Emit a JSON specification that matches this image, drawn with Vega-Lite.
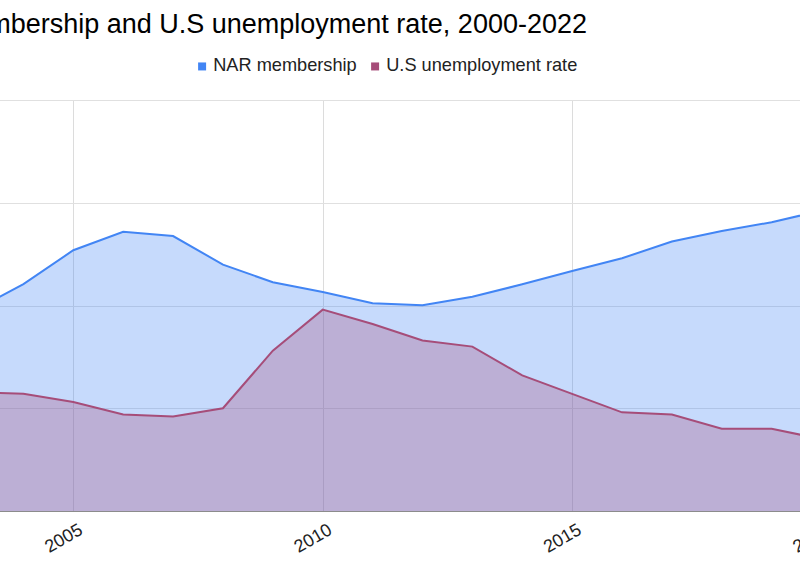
{
  "$schema": "https://vega.github.io/schema/vega-lite/v6.json",
  "width": 800,
  "height": 411,
  "autosize": {"type": "none"},
  "padding": {"left": 0, "right": 0, "top": 100, "bottom": 57},
  "background": "white",
  "title": {
    "text": "NAR membership and U.S unemployment rate, 2000-2022",
    "anchor": "end",
    "frame": "group",
    "dx": -213,
    "fontSize": 27,
    "font": "Liberation Sans",
    "fontWeight": "normal",
    "color": "#000000",
    "baseline": "alphabetic",
    "offset": -3
  },
  "config": {"view": {"stroke": null}, "font": "Liberation Sans"},
  "data": {
    "values": [
      {"year": 2000, "nar": 766000, "unemp": 4.0},
      {"year": 2001, "nar": 800000, "unemp": 4.2},
      {"year": 2002, "nar": 858000, "unemp": 5.7},
      {"year": 2003, "nar": 975000, "unemp": 5.8},
      {"year": 2004, "nar": 1104000, "unemp": 5.7},
      {"year": 2005, "nar": 1269000, "unemp": 5.3},
      {"year": 2006, "nar": 1359000, "unemp": 4.7},
      {"year": 2007, "nar": 1338000, "unemp": 4.6},
      {"year": 2008, "nar": 1199000, "unemp": 5.0},
      {"year": 2009, "nar": 1113000, "unemp": 7.8},
      {"year": 2010, "nar": 1066000, "unemp": 9.8},
      {"year": 2011, "nar": 1011000, "unemp": 9.1},
      {"year": 2012, "nar": 1001000, "unemp": 8.3},
      {"year": 2013, "nar": 1043000, "unemp": 8.0},
      {"year": 2014, "nar": 1103000, "unemp": 6.6},
      {"year": 2015, "nar": 1168000, "unemp": 5.7},
      {"year": 2016, "nar": 1230000, "unemp": 4.8},
      {"year": 2017, "nar": 1311000, "unemp": 4.7},
      {"year": 2018, "nar": 1363000, "unemp": 4.0},
      {"year": 2019, "nar": 1405000, "unemp": 4.0},
      {"year": 2020, "nar": 1462000, "unemp": 3.5},
      {"year": 2021, "nar": 1555000, "unemp": 6.4},
      {"year": 2022, "nar": 1575000, "unemp": 4.0}
    ]
  },
  "encoding": {
    "x": {
      "field": "year",
      "type": "quantitative",
      "scale": {"domain": [2000, 2022], "range": [-176.1, 921.3], "nice": false, "zero": false},
      "axis": {
        "values": [2005, 2010, 2015, 2020],
        "format": "d",
        "title": null,
        "labelAngle": -30,
        "labelAlign": "right",
        "labelBaseline": "middle",
        "labelOffset": 7.5,
        "labelPadding": 17.5,
        "ticks": false,
        "tickSize": 0,
        "labelFontSize": 18,
        "labelFont": "Liberation Sans",
        "labelColor": "#222222",
        "labelOverlap": false,
        "labelBound": false,
        "labelFlush": false,
        "grid": true,
        "gridColor": "#dcdcdc",
        "gridWidth": 1,
        "domainColor": "#8c8c8c",
        "domainWidth": 1
      }
    }
  },
  "layer": [
    {
      "encoding": {
        "y": {
          "field": "nar",
          "type": "quantitative",
          "scale": {"domain": [0, 2000000], "nice": false, "zero": true},
          "axis": {
            "values": [500000, 1000000, 1500000, 2000000],
            "labels": false,
            "ticks": false,
            "domain": false,
            "grid": true,
            "gridColor": "#e0e0e0",
            "gridWidth": 1,
            "title": null
          }
        }
      },
      "layer": [
        {
          "mark": {"type": "area", "opacity": 0.3, "clip": true},
          "encoding": {
            "color": {
              "datum": "NAR membership",
              "type": "nominal",
              "scale": {"domain": ["NAR membership", "U.S unemployment rate"], "range": ["#4285F4", "#A64D79"]},
              "legend": {
                "title": null,
                "orient": "none",
                "legendX": 193,
                "legendY": -43,
                "direction": "horizontal",
                "symbolType": "square",
                "symbolSize": 64,
                "symbolStrokeWidth": 0,
                "symbolOpacity": 1,
                "labelFontSize": 18.2,
                "labelFont": "Liberation Sans",
                "labelColor": "#222222",
                "labelOffset": 2,
                "labelLimit": 400,
                "columnPadding": 9,
                "padding": 0,
                "encode": {"symbols": {"update": {"opacity": {"value": 1}, "fillOpacity": {"value": 1}, "strokeWidth": {"value": 0}}}}
              }
            }
          }
        },
        {
          "mark": {"type": "line", "color": "#4285F4", "strokeWidth": 2, "clip": true},
          "encoding": {}
        }
      ]
    },
    {
      "encoding": {
        "y": {
          "field": "unemp",
          "type": "quantitative",
          "scale": {"domain": [0, 20], "nice": false, "zero": true},
          "axis": null
        }
      },
      "layer": [
        {
          "mark": {"type": "area", "opacity": 0.3, "clip": true},
          "encoding": {
            "color": {"datum": "U.S unemployment rate", "type": "nominal"}
          }
        },
        {
          "mark": {"type": "line", "color": "#A64D79", "strokeWidth": 2, "clip": true},
          "encoding": {}
        }
      ]
    }
  ],
  "resolve": {"scale": {"y": "independent"}}
}
